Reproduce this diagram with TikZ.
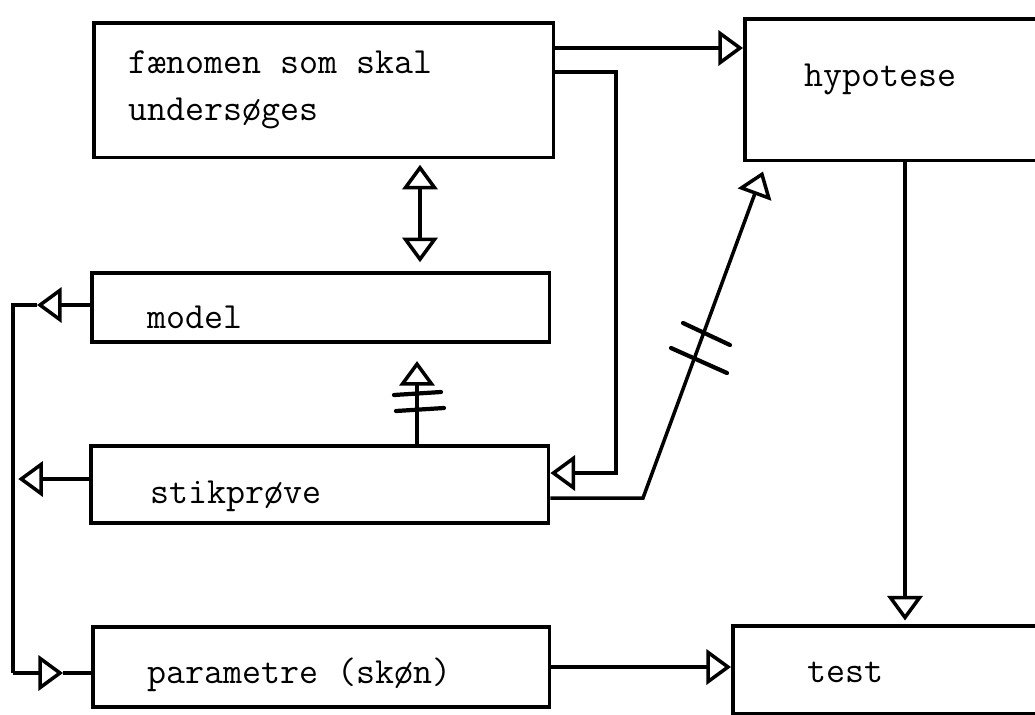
\documentclass[tikz,border=0pt]{standalone}
\usepackage{fontspec}
\usepackage{tikz}
\usetikzlibrary{arrows.meta,positioning,calc}

\begin{document}
\begin{tikzpicture}[
    x=0.02cm, y=-0.02cm,
    >={Triangle[open, length=14pt, width=20pt]},
    box/.style={rectangle, draw, line width=2pt, inner sep=0pt, anchor=north west},
    lbl/.style={anchor=base west, inner sep=0pt, font={\ttfamily\fontsize{21pt}{25pt}\selectfont}},
    wire/.style={line width=2pt},
    arrow/.style={->, line width=2pt},
    bar/.style={line width=2.4pt, line cap=round},
]
    \useasboundingbox (0,0) rectangle (1035,714);
    \clip (0,0) rectangle (1035,714);

    % Boxes
    \node[box, minimum width=9.2cm, minimum height=2.7cm] (fen) at (92,21) {};
    \node[box, minimum width=6.14cm, minimum height=2.84cm] (hyp) at (743,17) {};
    \node[box, minimum width=9.16cm, minimum height=1.38cm] (model) at (90,271) {};
    \node[box, minimum width=9.16cm, minimum height=1.54cm] (stik) at (89,444) {};
    \node[box, minimum width=9.14cm, minimum height=1.6cm] (param) at (91,625) {};
    \node[box, minimum width=6.38cm, minimum height=1.76cm] (test) at (731,624) {};

    % Texts
    \node[lbl] (fenA) at (128,73) {fænomen som skal};
    \node[lbl] (fenB) at (128,120) {undersøges};
    \node[lbl] (hypT) at (804,86) {hypotese};
    \node[lbl] (modelT) at (147,328) {model};
    \node[lbl] (stikT) at (150,503) {stikprøve};
    \node[lbl] (paramT) at (147,683) {parametre (skøn)};
    \node[lbl] (testT) at (807,682) {test};

    % Bus on the left
    \coordinate (busT) at (13,305);
    \coordinate (busB) at (13,673);
    \coordinate (tipM) at (37,305);
    \coordinate (tipP) at (63,673);

    % Arrows
    \draw[arrow] (fen.east |- 0,48) -- (hyp.west |- 0,48);
    \draw[arrow] (fen.east |- 0,72) -- (616,72) |- (stik.east |- 0,473);
    \draw[<->, line width=2pt, shorten <=3pt, shorten >=5pt] (fen.south -| 420,0) -- (model.north -| 420,0);
    \draw[arrow, shorten >=10pt] (stik.north -| 417,0) -- (model.south -| 417,0);
    \draw[arrow] (stik.east |- 0,498) -- (643,498) -- ($(hyp.south west)+(20,9)$);
    \draw[arrow, shorten >=2pt] (hyp.south -| 905,0) -- (test.north -| 905,0);
    \draw[arrow] (param.east |- 0,667) -- (test.west |- 0,667);

    \draw[arrow] (model.west |- busT) -- (tipM);
    \draw[wire] (tipM) -- (busT) -- (busB);
    \draw[arrow, shorten >=3pt] (stik.west |- 0,479) -- (busT |- 0,479);
    \draw[arrow] (busB) -- (tipP);
    \draw[wire] (tipP) -- (param.west |- busB);

    % Crossing bars
    \draw[bar] (394,395) -- (441,392);
    \draw[bar] (396,411) -- (444,408);
    \draw[bar] (683,323) -- (730,345);
    \draw[bar] (671,348) -- (727,373);
\end{tikzpicture}
\end{document}
